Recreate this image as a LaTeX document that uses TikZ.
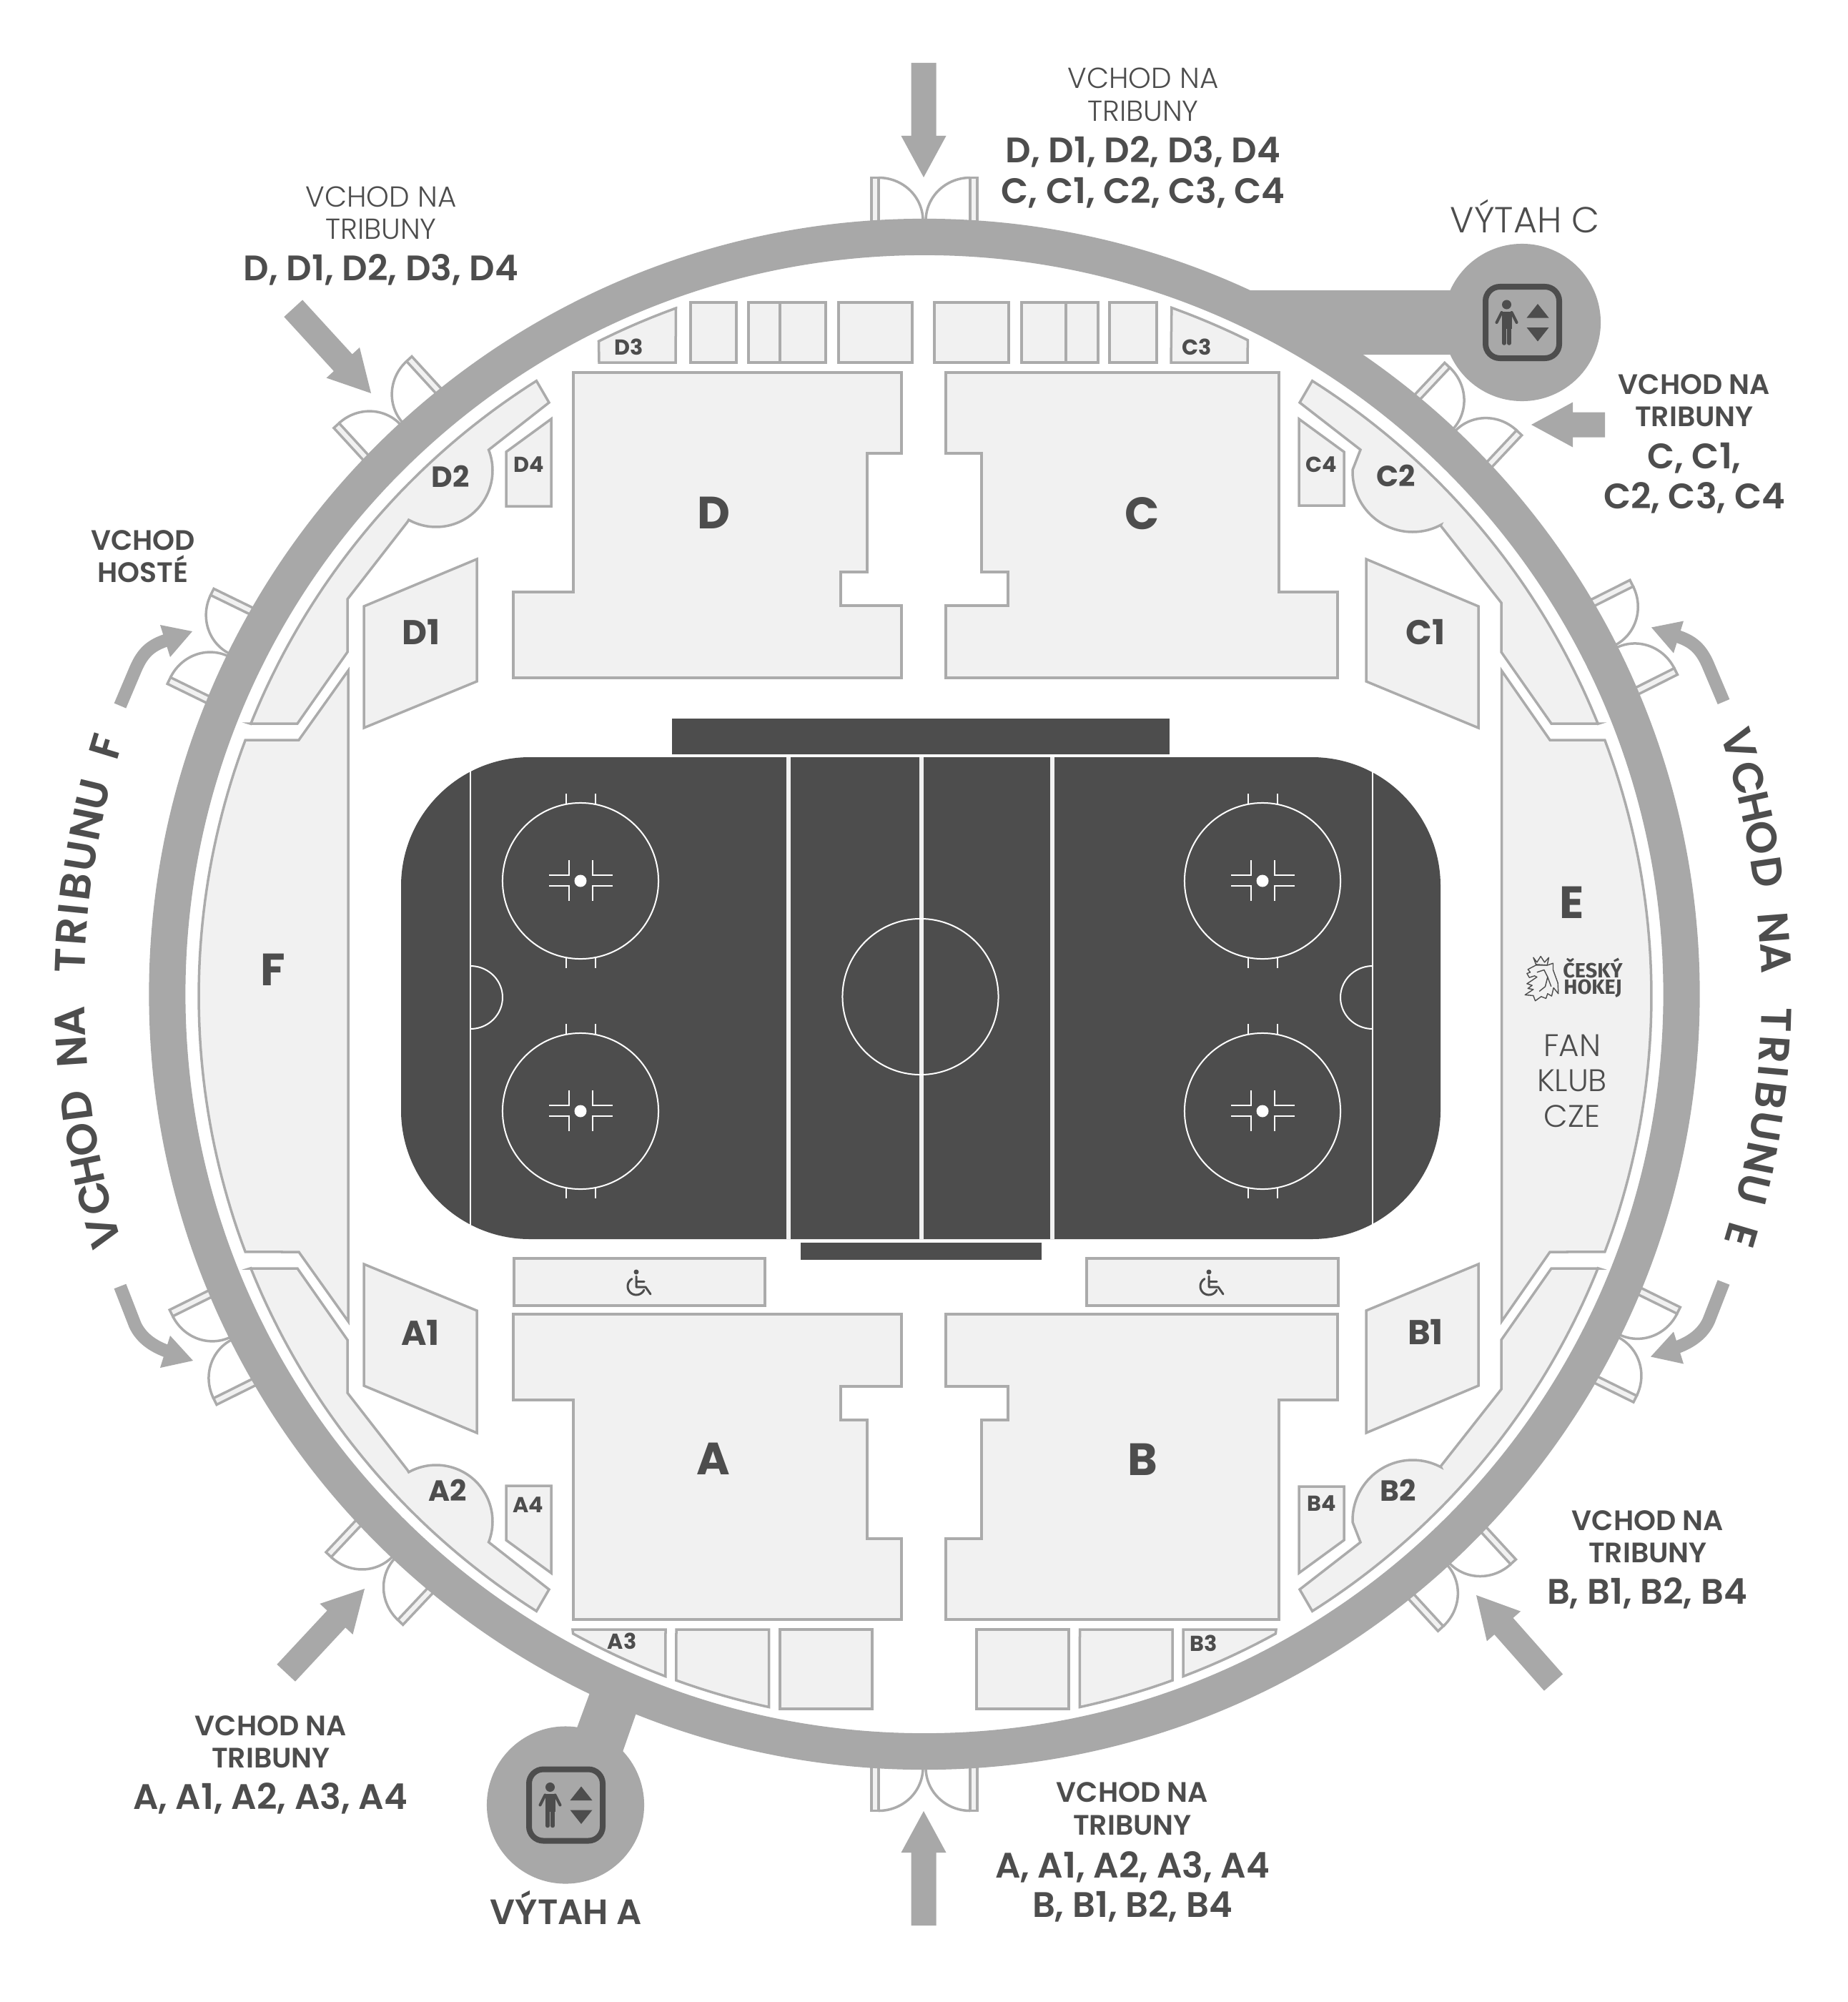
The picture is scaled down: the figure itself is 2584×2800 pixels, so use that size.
\documentclass[tikz,border=0pt]{standalone}
\usepackage{fontspec}
\setmainfont{Poppins}
\newfontfamily\popS{Poppins SemiBold}
\newfontfamily\popB{Poppins Bold}
\newfontfamily\popL{Poppins Light}
\newfontfamily\firaB{Fira Sans}[UprightFont=*,BoldFont=* Bold]
\definecolor{ringc}{HTML}{A8A8A8}
\definecolor{edgec}{HTML}{ABABAB}
\definecolor{roomc}{HTML}{F1F1F1}
\definecolor{dk}{HTML}{4D4D4D}
\newcommand\arcp[5]{-- plot[domain=#4:#5,samples=48,variable=\t]({#1+#3*cos(\t)},{#2+#3*sin(\t)})}
\tikzset{
  sec/.style={draw=edgec,fill=roomc,line width=.035cm},
  lab/.style={inner sep=0pt,text=dk,anchor=center,text depth=0pt},
  tS/.style={lab,yshift=-.02cm,text height=.25cm,font=\popS\fontsize{11.2pt}{13pt}\selectfont},
  tSL/.style={lab,yshift=-.02cm,text height=.25cm,font=\popL\fontsize{11.5pt}{13pt}\selectfont},
  tM/.style={lab,yshift=-.035cm,text height=.30cm,font=\popS\fontsize{14.1pt}{16pt}\selectfont},
  tLift/.style={lab,text height=.33cm,font=\popS\fontsize{14pt}{16pt}\selectfont},
  tLiftL/.style={lab,yshift=-.02cm,text height=.33cm,font=\popL\fontsize{14.4pt}{16pt}\selectfont},
  sBig/.style={lab,text height=.44cm,font=\popB\fontsize{18pt}{20pt}\selectfont},
  sOne/.style={lab,text height=.34cm,font=\popB\fontsize{13.7pt}{16pt}\selectfont},
  sTwo/.style={lab,text height=.29cm,font=\popB\fontsize{11.6pt}{14pt}\selectfont},
  sThree/.style={lab,text height=.21cm,font=\popB\fontsize{8.6pt}{10pt}\selectfont},
  sFan/.style={lab,text height=.29cm,font=\popL\fontsize{12.4pt}{14pt}\selectfont},
  logoT/.style={lab,text height=.15cm,font=\firaB\bfseries\fontsize{8.2pt}{9pt}\selectfont},
  curveT/.style={lab,font=\popS\fontsize{17pt}{20pt}\selectfont},
  rinkl/.style={draw=white,line width=.02cm},
}
% ---- building blocks
\newcommand\doorpair[1]{%
\begin{scope}[shift={(1293,1390.5)},rotate=-#1]
  \draw[sec] (-74,-1075) rectangle (-64,-1142);
  \draw[sec] (74,-1075) rectangle (64,-1142);
  \draw[draw=edgec,line width=.035cm] (-64,-1142) plot[domain=-90:0,samples=30,variable=\t]({-64+62*cos(\t)},{-1082+60*sin(\t)});
  \draw[draw=edgec,line width=.035cm] (64,-1142) plot[domain=-90:-180,samples=30,variable=\t]({64+62*cos(\t)},{-1082+60*sin(\t)});
\end{scope}}
\newcommand\sarrow[4]{% tip x, tip y, direction (screen, clockwise), length
\begin{scope}[shift={(#1,#2)},rotate=-#3]
  \fill[ringc] (-#4,-17.5) -- (-58,-17.5) -- (-58,-31.5) -- (0,0) -- (-58,31.5) -- (-58,17.5) -- (-#4,17.5) -- cycle;
\end{scope}}
\newcommand\bulgehallD{%
  \draw[sec] (350,1012) -- (416,1012) -- (486,912) -- (486,838) -- (570,730)
    \arcp{610}{658}{79}{119}{-21.4} -- (768,563)
    \arcp{1293}{1391}{1015.5}{237.7}{201.9} -- cycle;}
\newcommand\bulgehallC{%
  \draw[sec] (2236,1012) -- (2170,1012) -- (2100,912) -- (2100,843) -- (2015,735)
    \arcp{1976}{660}{84}{62}{182} -- (1903,629) -- (1818,563)
    \arcp{1293}{1391}{1015.5}{302.3}{338.1} -- cycle;}
\newcommand\mainD{%
  \draw[sec] (802,521) -- (1261,521) -- (1261,634) -- (1213,634) -- (1213,800) -- (1176,800) -- (1176,847) -- (1261,847) -- (1261,948) -- (718,948) -- (718,828) -- (802,828) -- cycle;}
\newcommand\mainC{%
  \draw[sec] (1323,521) -- (1789,521) -- (1789,828) -- (1871,828) -- (1871,948) -- (1323,948) -- (1323,847) -- (1410,847) -- (1410,800) -- (1373,800) -- (1373,634) -- (1323,634) -- cycle;}
\newcommand\liftsign[2]{%
\begin{scope}[shift={(#1,#2)}]
  \draw[draw=dk,line width=.08cm,rounded corners=.2cm] (-51.5,-50) rectangle (51.5,50);
  \fill[dk] (-22,-25) circle [radius=.065cm];
  \fill[dk] (-29,-15.5) -- (-15,-15.5) -- (-15,9) -- (-29,9) -- cycle;
  \draw[dk,line width=.04cm,line cap=round] (-29,-14) -- (-36,0);
  \draw[dk,line width=.04cm,line cap=round] (-15,-14) -- (-8,0);
  \draw[dk,line width=.055cm,line cap=round] (-25.5,5) -- (-25.5,29);
  \draw[dk,line width=.055cm,line cap=round] (-18.5,5) -- (-18.5,29);
  \fill[dk] (21.5,-26) -- (37,-6.5) -- (6,-6.5) -- cycle;
  \fill[dk] (21.5,26.5) -- (37,7) -- (6,7) -- cycle;
\end{scope}}
\newcommand\wheelie[2]{%
\begin{scope}[shift={(#1,#2)}]
  \fill[dk] (-3,-16) circle [radius=.035cm];
  \draw[dk,line width=.03cm,line join=round,line cap=round] (-3,-10) -- (-3,5) -- (10,5) -- (17,15);
  \draw[dk,line width=.03cm,line cap=round] (-3,-3) -- (8,-3);
  \draw[dk,line width=.03cm,line cap=round] plot[domain=25:240,samples=30,variable=\t]({-3+12*cos(\t)},{4+12*sin(\t)});
\end{scope}}
\newcommand\bentarrows{%
  \draw[ringc,line width=.18cm] (168,987) -- (190,935) .. controls (200,912) and (212,902) .. (234,895);
  \fill[ringc] (224,874) -- (269,883) -- (238,919) -- cycle;
  \draw[ringc,line width=.18cm] (168,1799) -- (189,1853) .. controls (197,1870) and (212,1882) .. (234,1890);
  \fill[ringc] (238,1868) -- (270,1903) -- (224,1913) -- cycle;}
\begin{document}
\begin{tikzpicture}[x=.01cm,y=-.01cm]
\useasboundingbox (0,0) rectangle (2584,2800);
\fill[white] (0,0) rectangle (2584,2800);

% doors under the ring
\doorpair{0}\doorpair{180}
\doorpair{43.2}\doorpair{63.3}\doorpair{116.2}\doorpair{137.4}
\doorpair{-42.5}\doorpair{-64}\doorpair{-116.4}\doorpair{-136.7}

% ring and lifts
\draw[ringc,line width=.51cm] (1293,1390.5) circle [radius=10.585cm];
\fill[ringc] (1745,406) -- (2129,406) -- (2129,496) -- (1905,496) -- cycle;
\fill[ringc] (2129,451) circle [radius=1.10cm];
\fill[ringc] (826,2365) -- (891,2393) -- (850,2510) -- (780,2490) -- cycle;
\fill[ringc] (791,2524.5) circle [radius=1.10cm];
\liftsign{2129.5}{451}
\liftsign{791.5}{2524.5}

% hall E and F
\draw[sec] (487,938) -- (418,1035) \arcp{1294}{1393}{1016}{200.63}{159.37} -- (418,1751) -- (487,1848) -- cycle;
\draw[sec] (2100.5,938) -- (2168,1035) \arcp{1294}{1393}{1016}{-20.63}{20.63} -- (2168,1751) -- (2100.5,1848) -- cycle;

% D quadrant
\mainD
\bulgehallD
\draw[sec] (708,632) -- (771,586) -- (771,708) -- (708,708) -- cycle;
\draw[sec] (509,848) -- (667,782) -- (667,953) -- (509,1018) -- cycle;
\draw[sec] (945,507) \arcp{1293}{1391}{1021}{250.1}{243.5} -- (838,507) -- cycle;
\draw[sec] (966,423) rectangle (1030,507);
\draw[sec] (1047,423) rectangle (1155,507);
\draw[edgec,line width=.035cm] (1091,423) -- (1091,507);
\draw[sec] (1173,423) rectangle (1276,507);
% C quadrant
\mainC
\bulgehallC
\draw[sec] (1817,586) -- (1880,632) -- (1880,707) -- (1817,707) -- cycle;
\draw[sec] (1911,782) -- (2068,848) -- (2068,1018) -- (1911,953) -- cycle;
\draw[sec] (1638,507) \arcp{1293}{1391}{1021}{289.8}{296.3} -- (1745,507) -- cycle;
\draw[sec] (1307,423) rectangle (1411,507);
\draw[sec] (1429,423) rectangle (1536,507);
\draw[edgec,line width=.035cm] (1491,423) -- (1491,507);
\draw[sec] (1552,423) rectangle (1618,507);
% A quadrant (mirror of D)
\begin{scope}[shift={(0,2786)},yscale=-1]
\mainD
\bulgehallD
\draw[sec] (708,632) -- (771,586) -- (771,708) -- (708,708) -- cycle;
\draw[sec] (509,848) -- (667,782) -- (667,953) -- (509,1018) -- cycle;
\end{scope}
% B quadrant (mirror of C)
\begin{scope}[shift={(0,2786)},yscale=-1]
\mainC
\bulgehallC
\draw[sec] (1817,586) -- (1880,632) -- (1880,707) -- (1817,707) -- cycle;
\draw[sec] (1911,782) -- (2068,848) -- (2068,1018) -- (1911,953) -- cycle;
\end{scope}
% bottom rows
\draw[sec] (801,2279) -- (931,2279) \arcp{1293}{1391}{1020}{110.8}{118.8} -- cycle;
\draw[sec] (946,2279) -- (1075.5,2279) \arcp{1293}{1391}{1020}{102.3}{109.9} -- cycle;
\draw[sec] (1091,2279) rectangle (1220,2390);
\begin{scope}[shift={(2586,0)},xscale=-1]
\draw[sec] (801,2279) -- (931,2279) \arcp{1293}{1391}{1020}{110.8}{118.8} -- cycle;
\draw[sec] (946,2279) -- (1075.5,2279) \arcp{1293}{1391}{1020}{102.3}{109.9} -- cycle;
\draw[sec] (1091,2279) rectangle (1220,2390);
\end{scope}
% wheelchair boxes
\draw[sec] (719,1760) rectangle (1070,1826);
\draw[sec] (1520,1760) rectangle (1872,1826);
\wheelie{893}{1795}
\wheelie{1694}{1795}

% rink
\fill[dk] (940,1005) rectangle (1636,1055);
\fill[dk] (1120,1738) rectangle (1457,1762);
\fill[dk,rounded corners=1.8cm] (561,1059) rectangle (2015,1733);
\draw[draw=roomc,line width=.06cm] (1103,1059) -- (1103,1733);
\draw[draw=roomc,line width=.06cm] (1289,1059) -- (1289,1733);
\draw[draw=roomc,line width=.06cm] (1471.5,1059) -- (1471.5,1733);
\draw[rinkl] (658,1079) -- (658,1713);
\draw[rinkl] (1920,1079) -- (1920,1713);
\draw[rinkl] (1287.5,1394) circle [radius=1.09cm];
\draw[rinkl] plot[domain=-90:90,samples=40,variable=\t]({658+45*cos(\t)},{1395+44*sin(\t)});
\draw[rinkl] plot[domain=90:270,samples=40,variable=\t]({1920+45*cos(\t)},{1395+44*sin(\t)});
\foreach \cx/\cy in {812/1232,812/1554,1766/1232,1766/1554}{
\begin{scope}[shift={(\cx,\cy)}]
  \draw[rinkl] (0,0) circle [radius=1.09cm];
  \fill[white] (0,0) circle [radius=.085cm];
  \draw[rinkl] (-20.5,-108) -- (-20.5,-122);
  \draw[rinkl] (20.5,-108) -- (20.5,-122);
  \draw[rinkl] (-20.5,108) -- (-20.5,122);
  \draw[rinkl] (20.5,108) -- (20.5,122);
  \draw[rinkl] (-44,-8) -- (-16,-8) -- (-16,-29);
  \draw[rinkl] (-44,7) -- (-16,7) -- (-16,28);
  \draw[rinkl] (45,-8) -- (17,-8) -- (17,-29);
  \draw[rinkl] (45,7) -- (17,7) -- (17,28);
\end{scope}}

% arrows
\sarrow{1292}{248}{90}{160}
\sarrow{1292}{2533}{-90}{160}
\sarrow{519}{550}{47.5}{161}
\sarrow{2142}{594}{180}{103}
\sarrow{2065}{2231}{-131.5}{163}
\sarrow{510}{2222}{-47}{161}
\bentarrows
\begin{scope}[shift={(2579,-5.5)},xscale=-1]
\bentarrows
\end{scope}

% section labels
\node[sBig] (lD) at (998,717) {D};
\node[sBig] (lC) at (1598,718) {C};
\node[sBig] (lA) at (998,2040) {A};
\node[sBig] (lB) at (1598,2041) {B};
\node[sBig] (lE) at (2199,1262) {E};
\node[sBig] (lF) at (382,1356) {F};
\node[sOne] (lD1) at (589,884) {D1};
\node[sOne] (lC1) at (1994,884) {C1};
\node[sOne] (lA1) at (588,1864) {A1};
\node[sOne] (lB1) at (1994,1863) {B1};
\node[sTwo] (lD2) at (630,667) {D2};
\node[sTwo] (lC2) at (1953,666) {C2};
\node[sTwo] (lA2) at (626,2085) {A2};
\node[sTwo] (lB2) at (1956,2085) {B2};
\node[sThree] (lD3) at (880,486) {D3};
\node[sThree] (lC3) at (1674,486) {C3};
\node[sThree] (lA3) at (870,2296) {A3};
\node[sThree] (lB3) at (1684,2299) {B3};
\node[sThree] (lD4) at (740,650) {D4};
\node[sThree] (lC4) at (1848.5,649.5) {C4};
\node[sThree] (lA4) at (739,2105) {A4};
\node[sThree] (lB4) at (1849,2103) {B4};

% fan club
\node[sFan] (fan1) at (2199,1463) {FAN};
\node[sFan] (fan2) at (2199,1512) {KLUB};
\node[sFan] (fan3) at (2199,1562) {CZE};
\node[logoT] (logo1) at (2228,1360) {ČESKÝ};
\node[logoT] (logo2) at (2228,1383) {HOKEJ};
\begin{scope}[shift={(2050,1250)},x=.00333cm,y=-.00333cm]
  \draw[draw=dk,fill=roomc,line width=.014cm,line join=round] (296,300)--(262,318)--(272,330)--(258,335)--(268,352)--(290,345)--(300,350)--(278,365)--(258,378)--(280,385)--(262,398)--(285,402)--(250,425)--(285,428)--(293,450)--(318,432)--(338,440)--(345,420)--(362,430)--(370,395)--(390,420)--(388,375)--(368,320)--(368,292)--(345,300)--cycle;
  \draw[draw=dk,fill=roomc,line width=.014cm,line join=round] (285,268)--(300,288)--(316,263)--(332,288)--(350,268)--(343,300)--(296,297)--cycle;
  \draw[draw=dk,line width=.014cm,line join=round] (300,330)--(330,320)--(345,350)--(335,390)--(310,410);
  \draw[draw=dk,line width=.014cm,line join=round] (345,350)--(360,390);
\end{scope}

% entrance texts
\node[tSL] (n1a) at (1599,109) {VCHOD NA};
\node[tSL] (n1b) at (1599,155) {TRIBUNY};
\node[tM] (n1c) at (1599,209) {D, D1, D2, D3, D4};
\node[tM] (n1d) at (1599,266) {C, C1, C2, C3, C4};
\node[tSL] (n2a) at (533,275) {VCHOD NA};
\node[tSL] (n2b) at (533,320) {TRIBUNY};
\node[tM] (n2c) at (533,374) {D, D1, D2, D3, D4};
\node[tLiftL] (n3) at (2133,307) {VÝTAH C};
\node[tS] (n4a) at (2370,537) {VCHOD NA};
\node[tS] (n4b) at (2370,582) {TRIBUNY};
\node[tM] (n4c) at (2370,637) {C, C1,};
\node[tM] (n4d) at (2370,693) {C2, C3, C4};
\node[tS] (n5a) at (200,755) {VCHOD};
\node[tS] (n5b) at (200,800) {HOSTÉ};
\node[tS] (n6a) at (2305,2126) {VCHOD NA};
\node[tS] (n6b) at (2305,2171) {TRIBUNY};
\node[tM] (n6c) at (2304,2225) {B, B1, B2, B4};
\node[tS] (n7a) at (379,2413) {VCHOD NA};
\node[tS] (n7b) at (379,2458) {TRIBUNY};
\node[tM] (n7c) at (378,2512) {A, A1, A2, A3, A4};
\node[tS] (n8a) at (1584,2506) {VCHOD NA};
\node[tS] (n8b) at (1584,2552) {TRIBUNY};
\node[tM] (n8c) at (1584,2608) {A, A1, A2, A3, A4};
\node[tM] (n8d) at (1584,2663) {B, B1, B2, B4};
\node[tLift] (n9) at (792,2675) {VÝTAH A};

% curved side texts
\foreach \l/\a [count=\i] in {V/-17.1,C/-14.7,H/-12.7,O/-10.6,D/-8.25,N/-4.5,A/-2.45,T/1.7,R/3.7,I/5.2,B/6.8,U/8.9,N/11.1,U/13.2,E/16.4}{
  \node[curveT,rotate={-90-\a}] (re\i) at ({1293+1192*cos(\a)},{1391+1192*sin(\a)}) {\l};
}
\foreach \l/\b [count=\i] in {V/-17.1,C/-14.7,H/-12.7,O/-10.6,D/-8.25,N/-4.5,A/-2.45,T/1.7,R/3.7,I/5.2,B/6.8,U/8.9,N/11.1,U/13.2,F/16.6}{
  \pgfmathsetmacro\a{180+\b*0.98+0.6}
  \node[curveT,rotate={-90-\a}] (le\i) at ({1293+1196*cos(\a)},{1391+1196*sin(\a)}) {\l};
}
\end{tikzpicture}
\end{document}
